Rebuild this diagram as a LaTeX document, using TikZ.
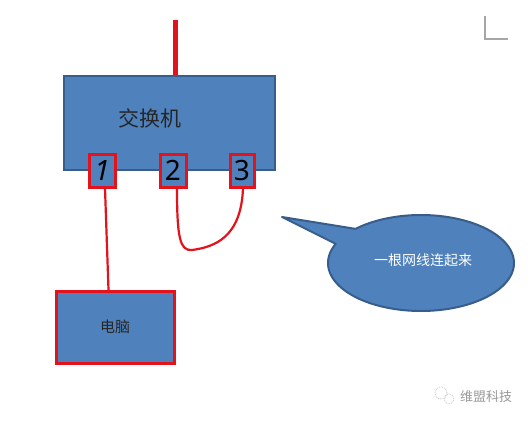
\documentclass[tikz,border=0pt]{standalone}
\usepackage{fontspec}
\newfontfamily\cjk{Noto Sans CJK SC}
\newfontfamily\digitfont{Noto Sans}
\definecolor{boxblue}{RGB}{79,129,189}
\definecolor{boxedge}{RGB}{56,93,138}
\definecolor{wire}{RGB}{228,18,26}
\tikzset{
  bluebox/.style={draw=boxedge, fill=boxblue, line width=2pt, inner sep=0pt},
  portbox/.style={draw=wire, fill=boxblue, line width=3pt, inner sep=0pt, minimum height=33pt,
    font=\digitfont\bfseries\fontsize{28}{28}\selectfont, text=black},
  redbox/.style={draw=wire, fill=boxblue, line width=3pt, inner sep=0pt},
  cable/.style={draw=wire, line width=2.2pt},
  uplink/.style={draw=wire, line width=5pt},
  lbl/.style={inner sep=0pt}
}
\begin{document}
\begin{tikzpicture}[x=1pt,y=-1pt]
\useasboundingbox (0,0) rectangle (531,421);
% corner mark
\draw[gray!70, line width=1.2pt] (485,16) -- (485,39) -- (508,39);
% uplink
\coordinate (up) at (175,20);
\node[bluebox, minimum width=211pt, minimum height=94pt] (switch) at (169,122.5) {};
\draw[uplink] (up) -- (switch.north -| up);
\node[lbl, font=\cjk\fontsize{21}{21}\selectfont, text=black!85] (swlabel) at (150,118) {交换机};
% ports
\node[portbox, minimum width=26pt] (p1) at (102,170.5) {\raisebox{-2pt}{\textit{1}}};
\node[portbox, minimum width=26pt] (p2) at (173,170.5) {\raisebox{-2pt}{2}};
\node[portbox, minimum width=24pt] (p3) at (242,170.5) {\raisebox{-2pt}{3}};
% pc
\node[redbox, minimum width=118pt, minimum height=72pt] (pc) at (115.5,327.5) {};
\node[lbl, font=\cjk\fontsize{15}{15}\selectfont, text=black!85] (pclabel) at (115,327) {电脑};
\draw[cable] ([xshift=3pt]p1.south) -- ([xshift=-7pt]pc.north);
% loop cable
\coordinate (bend) at (192,250);
\draw[cable] ([xshift=4pt]p2.south) .. controls (177,238) and (180,251) .. (bend)
  .. controls (214,247) and (241,238) .. ([xshift=1pt]p3.south);
% speech bubble
\coordinate (tip) at (282,217);
\filldraw[draw=boxedge, fill=boxblue, line width=2pt, line join=round]
  (tip) -- plot[domain=156.5:494.7, samples=150] ({421+93*cos(\x)},{263-48*sin(\x)}) -- cycle;
\node[lbl, font=\cjk\fontsize{14}{14}\selectfont, text=white] (bubble) at (423,260) {一根网线连起来};
% watermark
\draw[gray!45, line width=0.8pt, densely dotted] (441,393) circle (6pt);
\draw[gray!45, line width=0.8pt, densely dotted] (449,399) circle (5pt);
\node[lbl, font=\cjk\fontsize{13}{13}\selectfont, text=gray!80] (mark) at (486,397) {维盟科技};
\end{tikzpicture}
\end{document}
